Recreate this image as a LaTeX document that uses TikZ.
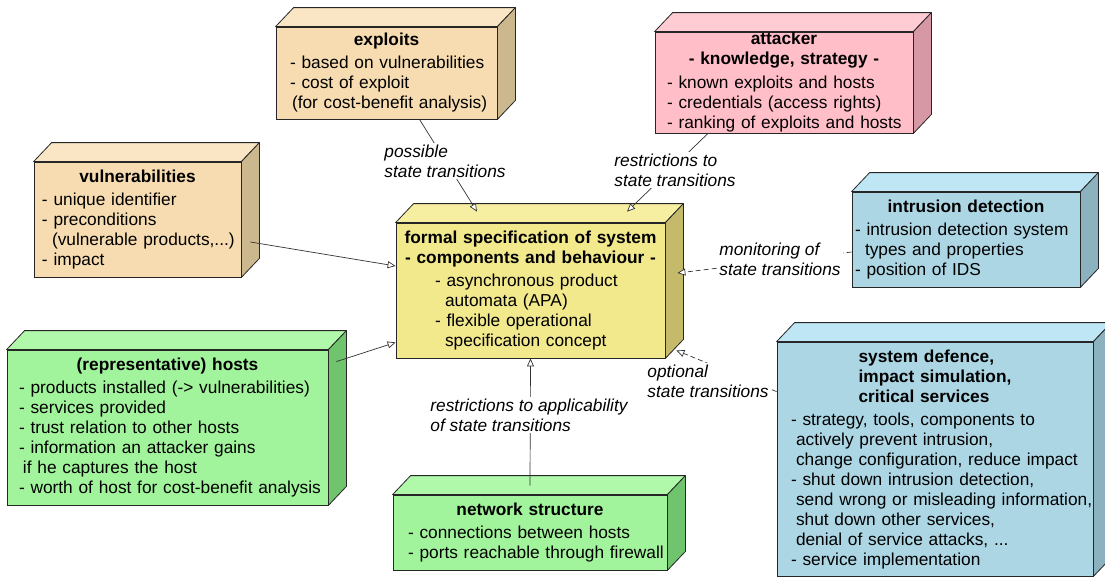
\documentclass[tikz,border=0pt]{standalone}
\usepackage{fontspec}
\setmainfont{Liberation Sans}
\usetikzlibrary{arrows.meta}

\definecolor{tanfront}{RGB}{246,220,176}
\definecolor{tantop}{RGB}{250,230,196}
\definecolor{tanside}{RGB}{204,184,142}
\definecolor{pinkfront}{RGB}{255,190,200}
\definecolor{pinktop}{RGB}{255,204,212}
\definecolor{pinkside}{RGB}{214,152,164}
\definecolor{yelfront}{RGB}{242,232,140}
\definecolor{yeltop}{RGB}{246,238,160}
\definecolor{yelside}{RGB}{196,186,106}
\definecolor{bluefront}{RGB}{172,214,228}
\definecolor{bluetop}{RGB}{190,230,244}
\definecolor{blueside}{RGB}{140,178,192}
\definecolor{grnfront}{RGB}{162,244,156}
\definecolor{grntop}{RGB}{176,248,170}
\definecolor{grnside}{RGB}{112,196,110}

\tikzset{
  comp/.style={draw=black!85, line width=0.8pt, inner sep=0pt,
    font=\fontsize{17.3}{20}\selectfont},
  lbl/.style={fill=white, inner sep=2pt, align=left,
    font=\fontsize{17.3}{20}\selectfont\itshape},
  rel/.style={draw=black!80, line width=0.7pt,
    -{Triangle[open, fill=white, length=8pt, width=7pt]}},
  opt/.style={rel, dash pattern=on 5pt off 3pt},
}

% top and side faces behind a front face
\newcommand{\boxsides}[3]{%
  \filldraw[fill=#2, draw=black!85, line width=0.8pt, line join=round]
    (#1.north west) -- ++(18pt,19pt) -- ([xshift=18pt,yshift=19pt]#1.north east)
    -- (#1.north east) -- cycle;
  \filldraw[fill=#3, draw=black!85, line width=0.8pt, line join=round]
    (#1.north east) -- ++(18pt,19pt) -- ([xshift=18pt,yshift=19pt]#1.south east)
    -- (#1.south east) -- cycle;
}
\newcommand{\wrapind}[1][10pt]{\hspace*{#1}}

\begin{document}
\begin{tikzpicture}[x=1pt, y=-1pt]
\clip (0,0) rectangle (1105,576);

\node (expl) at (386.5,73) [comp, fill=tanfront, minimum width=221pt, minimum height=92pt, text width=221pt]
  {{\centering\bfseries exploits\par}\vspace{3pt}
   \raggedright\leftskip=14pt - based on vulnerabilities\\- cost of exploit\\\wrapind[2pt](for cost-benefit analysis)\par};
\node (vuln) at (137.5,219.5) [comp, fill=tanfront, minimum width=207pt, minimum height=115pt, text width=207pt]
  {{\centering\bfseries vulnerabilities\par}\vspace{3pt}
   \raggedright\leftskip=8pt - unique identifier\\- preconditions\\\wrapind(vulnerable products,...)\\- impact\par};
\node (att) at (784,82.5) [comp, fill=pinkfront, minimum width=258pt, minimum height=101pt, text width=258pt]
  {{\centering\bfseries attacker\\- knowledge, strategy -\par}\vspace{4pt}
   \raggedright\leftskip=12pt - known exploits and hosts\\- credentials (access rights)\\- ranking of exploits and hosts\par};
\node (form) at (530.5,290.5) [comp, fill=yelfront, minimum width=269pt, minimum height=135pt, text width=269pt]
  {{\centering\bfseries formal specification of system\\- components and behaviour -\par}\vspace{3pt}
   \raggedright\leftskip=39pt - asynchronous product\\\wrapind automata (APA)\\- flexible operational\\\wrapind specification concept\par};
\node (intr) at (966,239.5) [comp, fill=bluefront, minimum width=228pt, minimum height=95pt, text width=228pt]
  {{\centering\bfseries intrusion detection\par}\vspace{3pt}
   \raggedright\leftskip=3pt - intrusion detection system\\\wrapind types and properties\\- position of IDS\par};
\node (hosts) at (167.5,427.5) [comp, fill=grnfront, minimum width=321pt, minimum height=155pt, text width=321pt]
  {{\centering\bfseries (representative) hosts\par}\vspace{3pt}
   \raggedright\leftskip=12pt - products installed (-> vulnerabilities)\\- services provided\\- trust relation to other hosts\\
   - information an attacker gains\\\wrapind[4pt]if he captures the host\\- worth of host for cost-benefit analysis\par};
\node (netw) at (530,532.5) [comp, fill=grnfront, minimum width=274pt, minimum height=75pt, text width=274pt]
  {{\centering\bfseries network structure\par}\vspace{3pt}
   \raggedright\leftskip=15pt - connections between hosts\\- ports reachable through firewall\par};
\node (sys) at (935,459) [comp, fill=bluefront, minimum width=316pt, minimum height=234pt, text width=316pt]
  {{\centering\bfseries\begin{tabular}{@{}l@{}}system defence,\\impact simulation,\\critical services\end{tabular}\par}\vspace{4pt}
   \raggedright\leftskip=14pt - strategy, tools, components to\\\wrapind[5pt]actively prevent intrusion,\\
   \wrapind[5pt]change configuration, reduce impact\\- shut down intrusion detection,\\
   \wrapind[5pt]\mbox{send wrong or misleading information,}\\\wrapind[5pt]shut down other services,\\
   \wrapind[5pt]denial of service attacks, ...\\- service implementation\par};

\boxsides{expl}{tantop}{tanside}
\boxsides{vuln}{tantop}{tanside}
\boxsides{att}{pinktop}{pinkside}
\boxsides{form}{yeltop}{yelside}
\boxsides{intr}{bluetop}{blueside}
\boxsides{hosts}{grntop}{grnside}
\boxsides{netw}{grntop}{grnside}
\boxsides{sys}{bluetop}{blueside}

\draw[rel] ([xshift=33pt]expl.south) -- ([xshift=-53.5pt,yshift=11pt]form.north);
\draw[rel] ([xshift=-76pt]att.south) -- ([xshift=96.5pt,yshift=11pt]form.north);
\draw[rel] ([xshift=9pt,yshift=-22.5pt]vuln.east) -- ([yshift=24.5pt]form.west);
\draw[rel] ([xshift=8pt,yshift=-12pt]hosts.north east) -- ([yshift=16pt]form.south west);
\draw[rel] ([yshift=9pt]netw.north) -- (form.south);
\draw[opt] ([yshift=-12.5pt]intr.west) -- ([xshift=12pt,yshift=17.5pt]form.east);
\draw[opt] ([yshift=-50pt]sys.north west) -- ([xshift=11pt,yshift=8pt]form.south east);

\node (lpos) at (445,161) [lbl] {possible\\state transitions};
\node (lres) at (675,170) [lbl] {restrictions to\\state transitions};
\node (lmon) at (780,259) [lbl] {monitoring of\\state transitions};
\node (lopt) at (708,381) [lbl] {optional\\state transitions};
\node (lapp) at (529,415) [lbl] {restrictions to applicability\\of state transitions};
\end{tikzpicture}
\end{document}
